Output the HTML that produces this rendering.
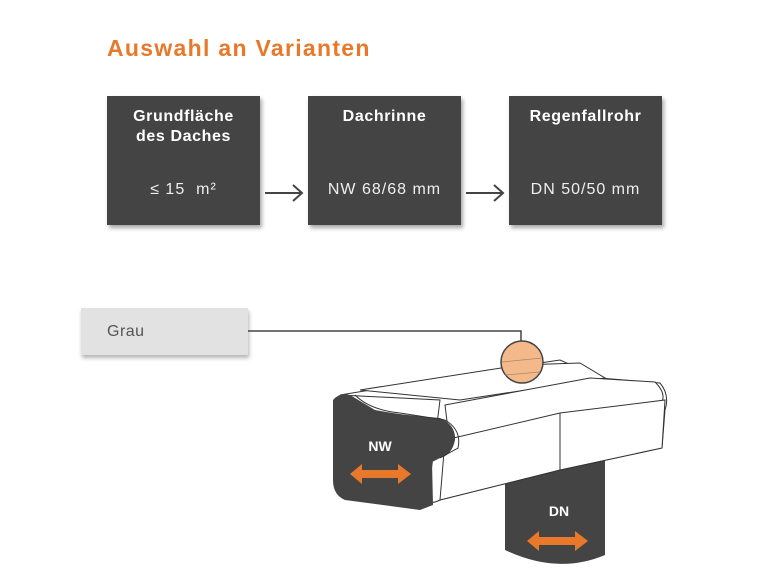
<!DOCTYPE html>
<html><head><meta charset="utf-8"><style>
body{margin:0;width:770px;height:578px;background:#fff;position:relative;overflow:hidden;font-family:"Liberation Sans",sans-serif}
.t{position:absolute;left:107px;top:35px;font-size:23px;font-weight:bold;color:#e8792a;letter-spacing:1.3px}
.b{position:absolute;top:96px;width:153px;height:129px;background:#444;color:#fff;box-shadow:2px 3px 4px rgba(0,0,0,.35);text-align:center}
.b .h{font-weight:bold;font-size:16px;letter-spacing:0.6px;line-height:20px;margin-top:11px}
.b .v{position:absolute;left:0;right:0;top:85px;font-size:16px;letter-spacing:1px;color:#eee}
.g{position:absolute;left:81px;top:308px;width:167px;height:47px;background:#e2e2e2;box-shadow:1px 3px 4px rgba(0,0,0,.3);font-size:16px;letter-spacing:0.5px;color:#555;line-height:47px;text-indent:26px}
svg{position:absolute;left:0;top:0}
</style></head><body>
<div class="t">Auswahl an Varianten</div>
<div class="b" style="left:107px"><div class="h">Grundfläche<br>des Daches</div><div class="v">≤ 15&nbsp; m²</div></div>
<div class="b" style="left:308px"><div class="h">Dachrinne</div><div class="v">NW 68/68 mm</div></div>
<div class="b" style="left:509px"><div class="h">Regenfallrohr</div><div class="v">DN 50/50 mm</div></div>
<div class="g">Grau</div>
<svg width="770" height="578">
<g stroke="#444" stroke-width="2" fill="none">
<path d="M265 193H302M293 185L302 193L293 201"/>
<path d="M466 193H503M494 185L503 193L494 201"/>
</g>
<path d="M248 331H521V341" stroke="#444" stroke-width="1.5" fill="none"/>
<path d="M505 460V550Q558 575 605 555V460Z" fill="#444"/>
<g stroke="#333" stroke-width="1" fill="#fff">
<path d="M340 395L480 372L560 360L600 378L660 383Q670 395 665 410L662 448L560 470L440 500Q420 510 430 480L440 400Z"/>
<path d="M360 390L520 365L580 363L605 378L460 400Z"/>
<path d="M445 405L590 378L655 382Q668 395 660 405L450 445Z"/>
<path d="M445 440L560 413L665 400L662 448L560 470L440 500Z"/>
<path d="M560 413V470"/>
</g>
<path d="M333 400Q340 392 350 395L375 410Q400 415 440 418Q456 425 455 440Q452 455 440 458L432 462L433 505L420 510L345 500Q333 495 333 480Z" fill="#444"/>
<path d="M355 395Q370 410 400 413L445 420Q462 430 458 448L440 458" stroke="#333" fill="none"/>
<text x="380" y="451" fill="#fff" font-size="14" font-weight="bold" text-anchor="middle">NW</text>
<text x="559" y="516" fill="#fff" font-size="14" font-weight="bold" text-anchor="middle">DN</text>
<g fill="#e8792a">
<path d="M350 474L362 464V470H398V464L411 474L398 484V478H362V484Z"/>
<path d="M527 541L539 531V537H575V531L588 541L575 551V545H539V551Z"/>
</g>
<circle cx="522" cy="362" r="21" fill="#f3b98a" stroke="#444" stroke-width="1.5"/>
<path d="M502 362L542 358M505 375L540 372" stroke="#a86" stroke-width="0.8"/>
</svg>
</body></html>
